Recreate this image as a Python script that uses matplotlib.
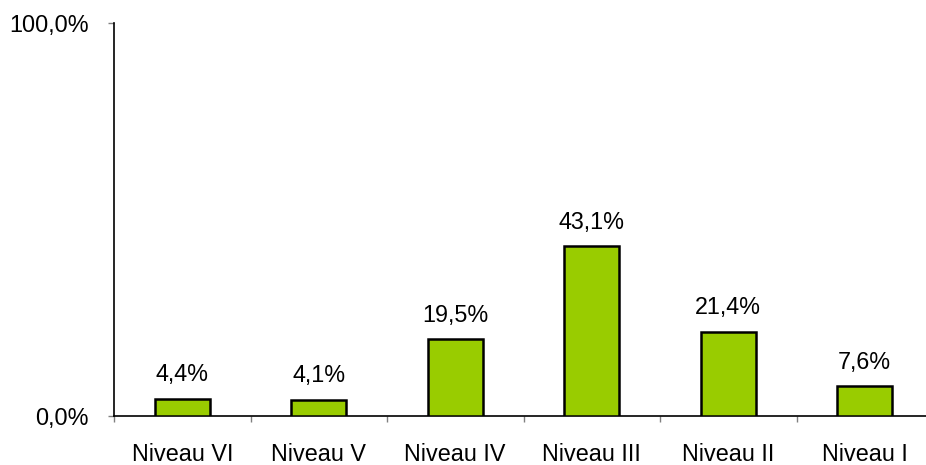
import matplotlib
matplotlib.use("Agg")
import matplotlib.pyplot as plt
import numpy as np

categories = ["Niveau VI", "Niveau V", "Niveau IV", "Niveau III", "Niveau II", "Niveau I"]
values = [4.4, 4.1, 19.5, 43.1, 21.4, 7.6]
labels = ["4,4%", "4,1%", "19,5%", "43,1%", "21,4%", "7,6%"]

plt.rcParams['font.family'] = ['Liberation Sans', 'DejaVu Sans']

fig = plt.figure(figsize=(9.26, 4.65), dpi=100)
ax = fig.add_axes([114/926, 49/465, 819/926, 393.3/465])

x = np.arange(len(categories))
ax.bar(x, values, width=0.4, color='#99CC00', edgecolor='black', linewidth=1.8, zorder=3)

for xi, v, lab in zip(x, values, labels):
    ax.annotate(lab, (xi, v), xytext=(0, 9), textcoords='offset points',
                ha='center', va='bottom', fontsize=16.8)

ax.set_xlim(-0.5, len(categories) - 0.5)
ax.set_ylim(0, 100)
ax.set_yticks([0, 100])
ax.set_yticklabels(["0,0%", "100,0%"], fontsize=16.8)
ax.set_xticks(x)
ax.set_xticklabels(categories, fontsize=16.8)
ax.set_xticks(np.arange(len(categories) + 1) - 0.5, minor=True)
ax.tick_params(axis='x', which='major', length=0, pad=19.5)
ax.tick_params(axis='x', which='minor', length=4.3, color='#808080', width=1)
ax.tick_params(axis='y', length=4.3, color='#808080', width=1, pad=14)

for s in ['top', 'right']:
    ax.spines[s].set_visible(False)
ax.spines['left'].set_linewidth(1.2)
ax.spines['bottom'].set_linewidth(1.2)

fig.savefig("out.png", dpi=100)
